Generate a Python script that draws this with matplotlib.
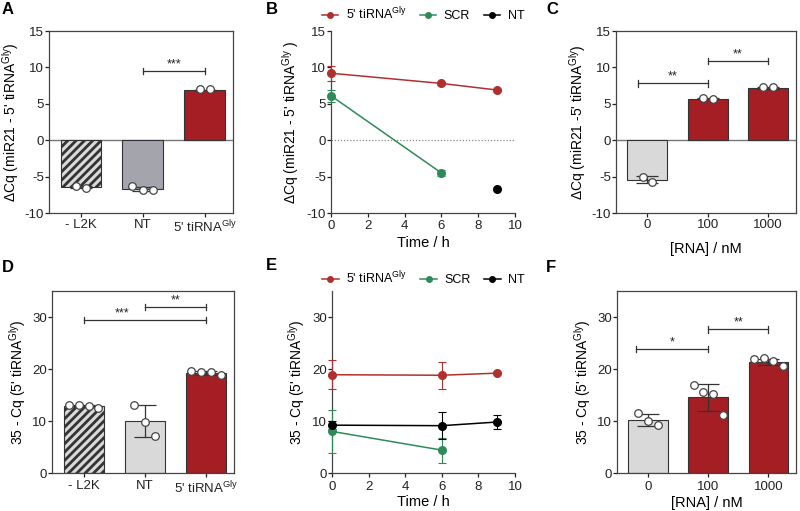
import matplotlib
matplotlib.use("Agg")
import matplotlib.pyplot as plt
from matplotlib.lines import Line2D
import numpy as np

plt.rcParams['font.family'] = ['Liberation Sans', 'DejaVu Sans']
plt.rcParams['mathtext.fontset'] = 'custom'
plt.rcParams['mathtext.rm'] = 'Liberation Sans'
plt.rcParams['mathtext.it'] = 'Liberation Sans:italic'
plt.rcParams['axes.unicode_minus'] = False
plt.rcParams['hatch.linewidth'] = 2.0
plt.rcParams['axes.linewidth'] = 0.9

W, H = 800, 511
RED_BAR = '#a41e24'
RED_LINE = '#b0302f'
GREEN = '#2f8a5a'
GRAY_MID = '#a4a4ac'
GRAY_LIGHT = '#d9d9d9'
EDGE = '#333333'

# ---------------- data ----------------
catsAD = ["- L2K", "NT", "5' tiRNA$^{\\mathrm{Gly}}$"]
catsCF = ["0", "100", "1000"]

A_means = [-6.4, -6.7, 6.9]
A_err = [0.1, 0.3, 0.05]
A_points = [[-6.3, -6.5], [-6.3, -6.8, -6.9], [7.0, 7.0]]

B_time_tir = [0, 6, 9]
B_tir = [9.2, 7.8, 6.9]
B_tir_err = [1.0, 0.2, 0.15]
B_time_scr = [0, 6]
B_scr = [6.1, -4.5]
B_scr_err = [0.8, 0.4]
B_time_nt = [9]
B_nt = [-6.7]

C_means = [-5.4, 5.7, 7.2]
C_err = [0.5, 0.1, 0.1]
C_points = [[-5.1, -5.7], [5.8, 5.7], [7.3, 7.3]]

D_means = [12.8, 10.0, 19.2]
D_err = [0.2, 3.0, 0.4]
D_points = [[13.0, 13.0, 12.9, 12.5], [13.1, 9.9, 7.1], [19.6, 19.5, 19.4, 18.8]]

E_time_tir = [0, 6, 9]
E_tir = [18.9, 18.8, 19.2]
E_tir_err = [2.8, 2.6, 0.2]
E_time_scr = [0, 6]
E_scr = [8.0, 4.4]
E_scr_err = [4.1, 2.4]
E_time_nt = [0, 6, 9]
E_nt = [9.2, 9.1, 9.8]
E_nt_err = [0.8, 2.6, 1.3]

F_means = [10.2, 14.6, 21.4]
F_err = [1.1, 2.6, 0.6]
F_points = [[11.5, 10.0, 9.3], [17.0, 15.6, 15.1, 11.1], [22.0, 22.1, 21.6, 20.6]]

ylab_A = "ΔCq (miR21 - 5' tiRNA$^{\\mathrm{Gly}}$)"
ylab_B = "ΔCq (miR21 - 5' tiRNA$^{\\mathrm{Gly}}$ )"
ylab_C = "ΔCq (miR21 -5' tiRNA$^{\\mathrm{Gly}}$)"
ylab_D = "35 - Cq (5' tiRNA$^{\\mathrm{Gly}}$)"
leg_labels = ["5' tiRNA$^{\\mathrm{Gly}}$", "SCR", "NT"]

fig = plt.figure(figsize=(8, 5.11), dpi=100)


def add_ax(l, r, t, b):
    return fig.add_axes([l / W, 1 - b / H, (r - l) / W, (b - t) / H])


def style(ax, xpad):
    ax.tick_params(labelsize=9.5, length=3, width=0.9, direction='out', colors='#222222')
    ax.tick_params(axis='y', pad=0.5)
    ax.tick_params(axis='x', pad=xpad)
    for s in ax.spines.values():
        s.set_color('#444444')


def sig(ax, x1, x2, y, text, tick, xt=None):
    ax.plot([x1, x2], [y, y], color='#333333', lw=0.9)
    for x in (x1, x2):
        ax.plot([x, x], [y - tick, y + tick], color='#333333', lw=0.9)
    if xt is None:
        xt = (x1 + x2) / 2
    ax.text(xt, y + tick * 0.2, text, ha='center', va='bottom', fontsize=9, color='#222222')


def bars(ax, means, err, points, colors, hatches, ylim, yticks, cats, ylabel,
         xlabel=None, xpad=1, labelpad=4):
    x = np.arange(len(means))
    for i in x:
        ax.bar(i, means[i], width=0.66, color=colors[i], edgecolor=EDGE, linewidth=0.8,
               hatch=hatches[i], zorder=2)
        ax.errorbar(i, means[i], yerr=err[i], color='#333333', capsize=8, lw=0.9, capthick=0.9, zorder=3)
        pts = points[i]
        n = len(pts)
        if n == 2:
            offs = [-0.08, 0.08]
        elif n == 3:
            offs = [-0.17, 0.0, 0.17]
        else:
            offs = np.linspace(-0.24, 0.24, n)
        ax.scatter(np.array(offs) + i, pts, s=30, facecolor='white', edgecolor='#444444',
                   linewidth=0.9, zorder=4, clip_on=False)
    ax.set_xlim(-0.52, 2.46)
    ax.set_ylim(*ylim)
    ax.set_yticks(yticks)
    ax.set_xticks(x)
    ax.set_xticklabels(cats)
    ax.set_ylabel(ylabel, fontsize=10, labelpad=3)
    if xlabel:
        ax.set_xlabel(xlabel, fontsize=10.5, labelpad=labelpad)
    style(ax, xpad)


# ---------- A ----------
axA = add_ax(49, 233, 31, 213)
axA.axhline(0, color='#777777', lw=1.0, zorder=1)
bars(axA, A_means, A_err, A_points, [GRAY_LIGHT, GRAY_MID, RED_BAR], ['////', '', ''],
     (-10, 15), [-10, -5, 0, 5, 10, 15], catsAD, ylab_A)
sig(axA, 1, 2, 9.5, '***', 0.45)

# ---------- C ----------
axC = add_ax(616, 796, 31, 213)
axC.axhline(0, color='#777777', lw=1.0, zorder=1)
bars(axC, C_means, C_err, C_points, [GRAY_LIGHT, RED_BAR, RED_BAR], ['', '', ''],
     (-10, 15), [-10, -5, 0, 5, 10, 15], catsCF, ylab_C, "[RNA] / nM", xpad=1, labelpad=8)
sig(axC, -0.16, 1, 7.8, '**', 0.45)
sig(axC, 1, 2, 10.9, '**', 0.45)

# ---------- D ----------
axD = add_ax(52, 234, 291, 473)
bars(axD, D_means, D_err, D_points, [GRAY_LIGHT, GRAY_LIGHT, RED_BAR], ['////', '', ''],
     (0, 35), [0, 10, 20, 30], catsAD, ylab_D, xpad=2)
sig(axD, 0, 2, 29.4, '***', 0.6, xt=0.62)
sig(axD, 1, 2, 31.9, '**', 0.6)

# ---------- F ----------
axF = add_ax(617, 796, 291, 473)
bars(axF, F_means, F_err, F_points, [GRAY_LIGHT, RED_BAR, RED_BAR], ['', '', ''],
     (0, 35), [0, 10, 20, 30], catsCF, ylab_D, "[RNA] / nM", xpad=3, labelpad=2)
sig(axF, -0.2, 1, 23.8, '*', 0.6)
sig(axF, 1, 2, 27.6, '**', 0.6)


# ---------- line plots ----------
def line_ax(ax, ylim, yticks, ylabel, xpad, labelpad):
    ax.spines['top'].set_visible(False)
    ax.spines['right'].set_visible(False)
    ax.set_xlim(0, 10)
    ax.set_xticks([0, 2, 4, 6, 8, 10])
    ax.set_ylim(*ylim)
    ax.set_yticks(yticks)
    ax.set_ylabel(ylabel, fontsize=10, labelpad=4)
    ax.set_xlabel("Time / h", fontsize=10.5, labelpad=labelpad)
    style(ax, xpad)


def series(ax, x, y, err, color):
    ax.errorbar(x, y, yerr=err, color=color, marker='o', ms=5.5, lw=1.1, capsize=3,
                capthick=0.8, elinewidth=0.8, clip_on=False, zorder=3)


def legend(ax, pad):
    handles = [Line2D([], [], color=c, marker='o', ms=4, lw=1.1)
               for c in (RED_LINE, GREEN, 'black')]
    ax.legend(handles, leg_labels, loc='lower center', bbox_to_anchor=(0.5, 1.0), ncol=3,
              frameon=False, fontsize=9, handlelength=1.3, handletextpad=0.6,
              columnspacing=1.1, borderaxespad=pad)


axB = add_ax(331, 515, 31, 213)
axB.axhline(0, color='#888888', lw=0.9, ls=(0, (1, 1.5)), zorder=1)
series(axB, B_time_tir, B_tir, B_tir_err, RED_LINE)
series(axB, B_time_scr, B_scr, B_scr_err, GREEN)
series(axB, B_time_nt, B_nt, None, 'black')
line_ax(axB, (-10, 15), [-10, -5, 0, 5, 10, 15], ylab_B, xpad=2, labelpad=3)
legend(axB, 0.3)

axE = add_ax(332, 515, 291, 473)
series(axE, E_time_tir, E_tir, E_tir_err, RED_LINE)
series(axE, E_time_scr, E_scr, E_scr_err, GREEN)
series(axE, E_time_nt, E_nt, E_nt_err, 'black')
line_ax(axE, (0, 35), [0, 10, 20, 30], ylab_D, xpad=3, labelpad=1)
legend(axE, 0.0)

# panel letters
for letter, px, py in [('A', 2, 9), ('B', 266, 9), ('C', 546, 9),
                       ('D', 2, 268), ('E', 266, 266), ('F', 546, 268)]:
    fig.text(px / W, 1 - py / H, letter, fontsize=12, fontweight='bold', ha='left', va='center')

fig.savefig('out.png', dpi=100)
